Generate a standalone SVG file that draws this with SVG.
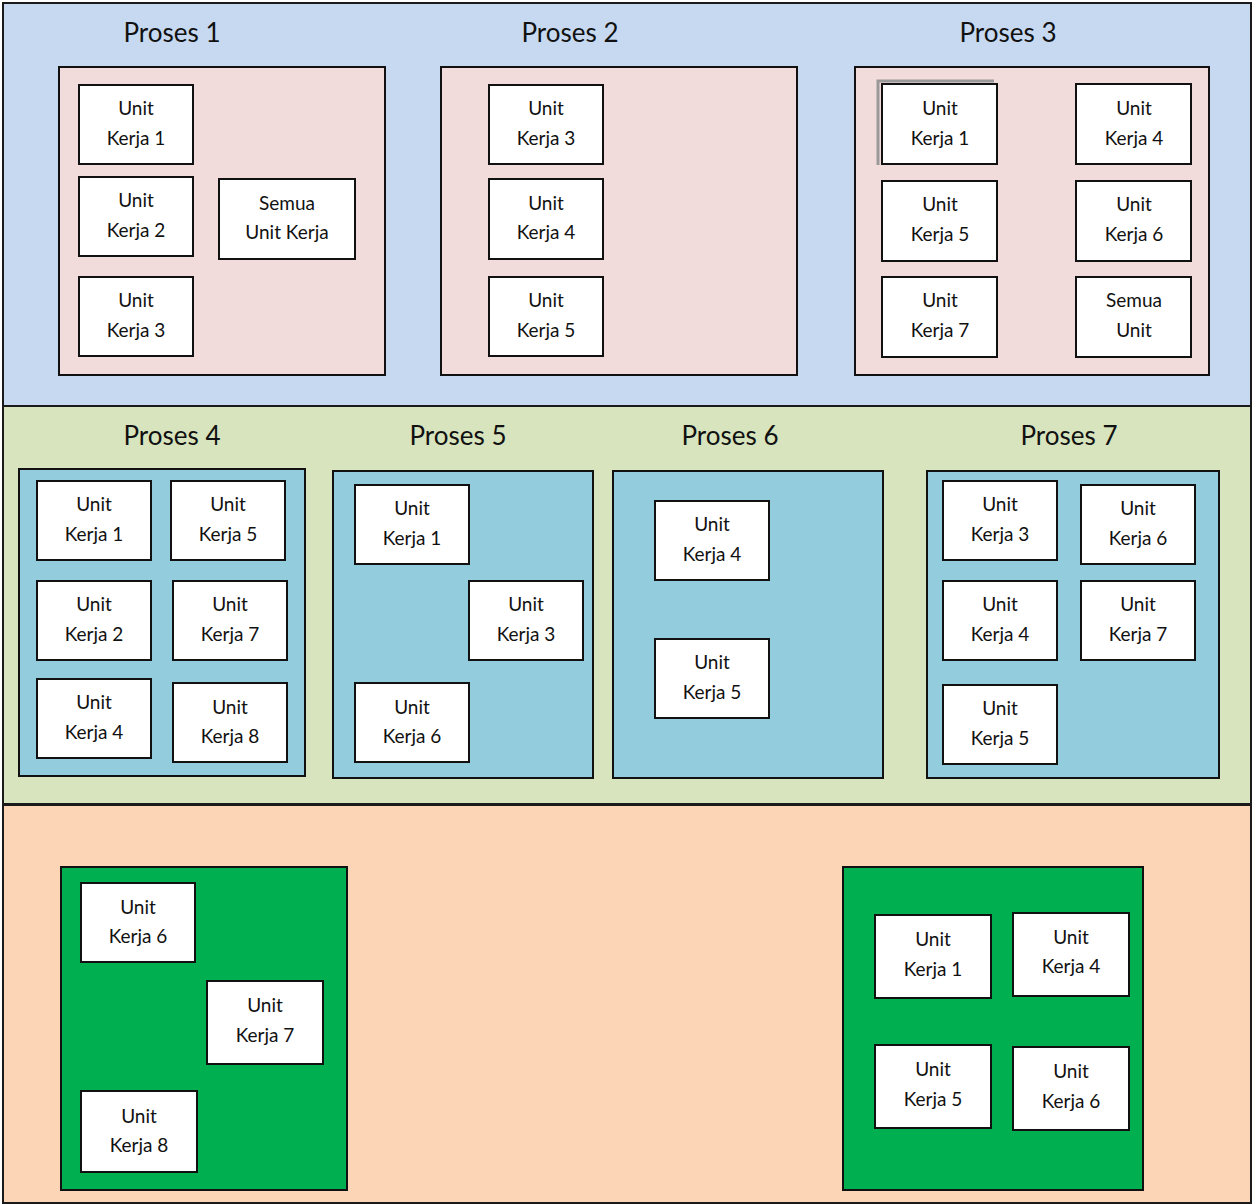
<svg xmlns="http://www.w3.org/2000/svg" width="1253" height="1204" viewBox="0 0 1253 1204">
<style>
.band{stroke:#1a1a1a;stroke-width:2}
.cont{stroke:#111;stroke-width:2}
.pink{fill:#f2dcdb}
.blue{fill:#93cddd}
.green{fill:#00b050}
.unit{fill:#fff;stroke:#111;stroke-width:2}
text{font-family:Lato,"Open Sans","Liberation Sans",sans-serif;fill:#111;text-anchor:middle}
.t{font-size:26px}
.u{font-size:19px}
</style>
<rect class="band" x="3" y="3" width="1248" height="403" fill="#c6d9f1"/>
<rect class="band" x="3" y="406" width="1248" height="398" fill="#d7e4bd"/>
<rect class="band" x="3" y="805" width="1248" height="398" fill="#fbd5b5"/>

<g id="proses1">
<text class="t" x="172" y="42">Proses 1</text>
<rect class="cont pink" x="59" y="67" width="326" height="308"/>
<g id="p1u1"><rect class="unit" x="79" y="85" width="114" height="79"/><text class="u" x="136" y="115">Unit</text><text class="u" x="136" y="145">Kerja 1</text></g>
<g id="p1u2"><rect class="unit" x="79" y="177" width="114" height="79"/><text class="u" x="136" y="207">Unit</text><text class="u" x="136" y="237">Kerja 2</text></g>
<g id="p1u3"><rect class="unit" x="79" y="277" width="114" height="79"/><text class="u" x="136" y="307">Unit</text><text class="u" x="136" y="337">Kerja 3</text></g>
<g id="p1all"><rect class="unit" x="219" y="179" width="136" height="80"/><text class="u" x="287" y="210">Semua</text><text class="u" x="287" y="239">Unit Kerja</text></g>
</g>

<g id="proses2">
<text class="t" x="570" y="42">Proses 2</text>
<rect class="cont pink" x="441" y="67" width="356" height="308"/>
<g id="p2u3"><rect class="unit" x="489" y="85" width="114" height="79"/><text class="u" x="546" y="115">Unit</text><text class="u" x="546" y="145">Kerja 3</text></g>
<g id="p2u4"><rect class="unit" x="489" y="179" width="114" height="80"/><text class="u" x="546" y="210">Unit</text><text class="u" x="546" y="239">Kerja 4</text></g>
<g id="p2u5"><rect class="unit" x="489" y="277" width="114" height="79"/><text class="u" x="546" y="307">Unit</text><text class="u" x="546" y="337">Kerja 5</text></g>
</g>

<g id="proses3">
<text class="t" x="1008" y="42">Proses 3</text>
<rect class="cont pink" x="855" y="67" width="354" height="308"/>
<g id="p3u1"><path d="M878 165 V81 H994" fill="none" stroke="#999" stroke-width="3"/><rect class="unit" x="882" y="84" width="115" height="80"/><text class="u" x="940" y="115">Unit</text><text class="u" x="940" y="145">Kerja 1</text></g>
<g id="p3u4"><rect class="unit" x="1076" y="84" width="115" height="80"/><text class="u" x="1134" y="115">Unit</text><text class="u" x="1134" y="145">Kerja 4</text></g>
<g id="p3u5"><rect class="unit" x="882" y="181" width="115" height="80"/><text class="u" x="940" y="211">Unit</text><text class="u" x="940" y="241">Kerja 5</text></g>
<g id="p3u6"><rect class="unit" x="1076" y="181" width="115" height="80"/><text class="u" x="1134" y="211">Unit</text><text class="u" x="1134" y="241">Kerja 6</text></g>
<g id="p3u7"><rect class="unit" x="882" y="277" width="115" height="80"/><text class="u" x="940" y="307">Unit</text><text class="u" x="940" y="337">Kerja 7</text></g>
<g id="p3all"><rect class="unit" x="1076" y="277" width="115" height="80"/><text class="u" x="1134" y="307">Semua</text><text class="u" x="1134" y="337">Unit</text></g>
</g>

<g id="proses4">
<text class="t" x="172" y="445">Proses 4</text>
<rect class="cont blue" x="19" y="469" width="286" height="307"/>
<g id="p4u1"><rect class="unit" x="37" y="481" width="114" height="79"/><text class="u" x="94" y="511">Unit</text><text class="u" x="94" y="541">Kerja 1</text></g>
<g id="p4u5"><rect class="unit" x="171" y="481" width="114" height="79"/><text class="u" x="228" y="511">Unit</text><text class="u" x="228" y="541">Kerja 5</text></g>
<g id="p4u2"><rect class="unit" x="37" y="581" width="114" height="79"/><text class="u" x="94" y="611">Unit</text><text class="u" x="94" y="641">Kerja 2</text></g>
<g id="p4u7"><rect class="unit" x="173" y="581" width="114" height="79"/><text class="u" x="230" y="611">Unit</text><text class="u" x="230" y="641">Kerja 7</text></g>
<g id="p4u4"><rect class="unit" x="37" y="679" width="114" height="79"/><text class="u" x="94" y="709">Unit</text><text class="u" x="94" y="739">Kerja 4</text></g>
<g id="p4u8"><rect class="unit" x="173" y="683" width="114" height="79"/><text class="u" x="230" y="714">Unit</text><text class="u" x="230" y="743">Kerja 8</text></g>
</g>

<g id="proses5">
<text class="t" x="458" y="445">Proses 5</text>
<rect class="cont blue" x="333" y="471" width="260" height="307"/>
<g id="p5u1"><rect class="unit" x="355" y="485" width="114" height="79"/><text class="u" x="412" y="515">Unit</text><text class="u" x="412" y="545">Kerja 1</text></g>
<g id="p5u3"><rect class="unit" x="469" y="581" width="114" height="79"/><text class="u" x="526" y="611">Unit</text><text class="u" x="526" y="641">Kerja 3</text></g>
<g id="p5u6"><rect class="unit" x="355" y="683" width="114" height="79"/><text class="u" x="412" y="714">Unit</text><text class="u" x="412" y="743">Kerja 6</text></g>
</g>

<g id="proses6">
<text class="t" x="730" y="445">Proses 6</text>
<rect class="cont blue" x="613" y="471" width="270" height="307"/>
<g id="p6u4"><rect class="unit" x="655" y="501" width="114" height="79"/><text class="u" x="712" y="531">Unit</text><text class="u" x="712" y="561">Kerja 4</text></g>
<g id="p6u5"><rect class="unit" x="655" y="639" width="114" height="79"/><text class="u" x="712" y="669">Unit</text><text class="u" x="712" y="699">Kerja 5</text></g>
</g>

<g id="proses7">
<text class="t" x="1069" y="445">Proses 7</text>
<rect class="cont blue" x="927" y="471" width="292" height="307"/>
<g id="p7u3"><rect class="unit" x="943" y="481" width="114" height="79"/><text class="u" x="1000" y="511">Unit</text><text class="u" x="1000" y="541">Kerja 3</text></g>
<g id="p7u6"><rect class="unit" x="1081" y="485" width="114" height="79"/><text class="u" x="1138" y="515">Unit</text><text class="u" x="1138" y="545">Kerja 6</text></g>
<g id="p7u4"><rect class="unit" x="943" y="581" width="114" height="79"/><text class="u" x="1000" y="611">Unit</text><text class="u" x="1000" y="641">Kerja 4</text></g>
<g id="p7u7"><rect class="unit" x="1081" y="581" width="114" height="79"/><text class="u" x="1138" y="611">Unit</text><text class="u" x="1138" y="641">Kerja 7</text></g>
<g id="p7u5"><rect class="unit" x="943" y="685" width="114" height="79"/><text class="u" x="1000" y="715">Unit</text><text class="u" x="1000" y="745">Kerja 5</text></g>
</g>

<g id="groupA">
<rect class="cont green" x="61" y="867" width="286" height="323"/>
<g id="gAu6"><rect class="unit" x="81" y="883" width="114" height="79"/><text class="u" x="138" y="914">Unit</text><text class="u" x="138" y="943">Kerja 6</text></g>
<g id="gAu7"><rect class="unit" x="207" y="981" width="116" height="83"/><text class="u" x="265" y="1012">Unit</text><text class="u" x="265" y="1042">Kerja  7</text></g>
<g id="gAu8"><rect class="unit" x="81" y="1091" width="116" height="81"/><text class="u" x="139" y="1123">Unit</text><text class="u" x="139" y="1152">Kerja 8</text></g>
</g>

<g id="groupB">
<rect class="cont green" x="843" y="867" width="300" height="323"/>
<g id="gBu1"><rect class="unit" x="875" y="915" width="116" height="83"/><text class="u" x="933" y="946">Unit</text><text class="u" x="933" y="976">Kerja 1</text></g>
<g id="gBu4"><rect class="unit" x="1013" y="913" width="116" height="83"/><text class="u" x="1071" y="944">Unit</text><text class="u" x="1071" y="973">Kerja 4</text></g>
<g id="gBu5"><rect class="unit" x="875" y="1045" width="116" height="83"/><text class="u" x="933" y="1076">Unit</text><text class="u" x="933" y="1106">Kerja 5</text></g>
<g id="gBu6"><rect class="unit" x="1013" y="1047" width="116" height="83"/><text class="u" x="1071" y="1078">Unit</text><text class="u" x="1071" y="1108">Kerja 6</text></g>
</g>
<g id="connectors"/>
</svg>
